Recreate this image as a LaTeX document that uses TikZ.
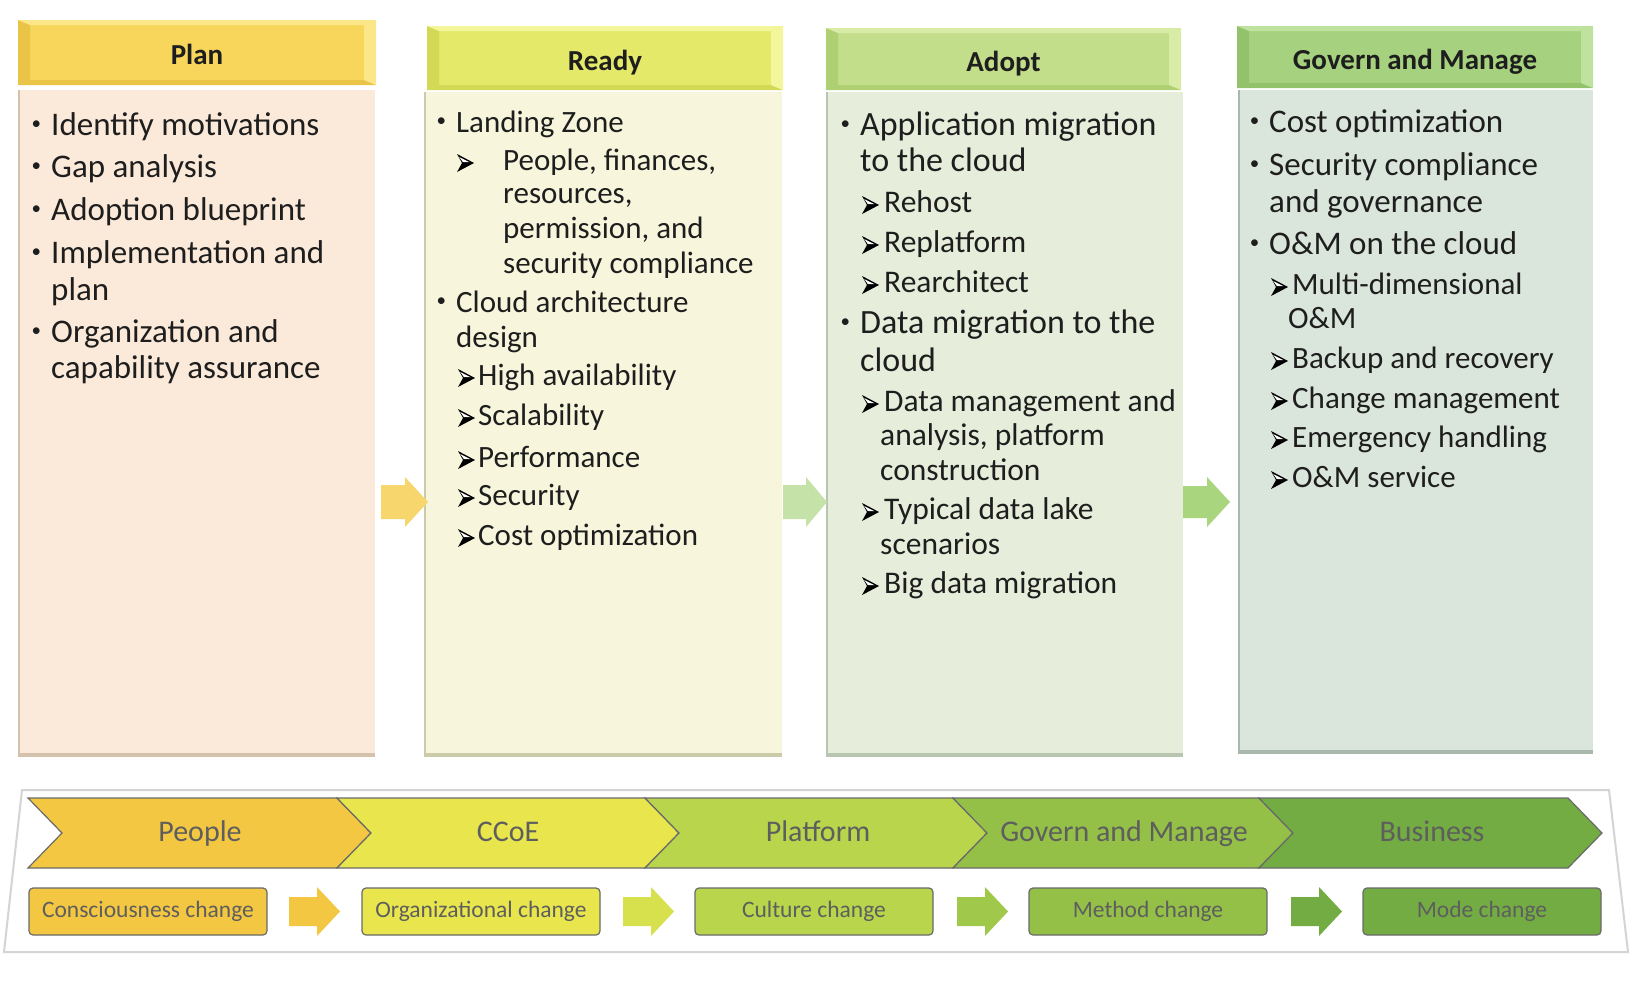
\documentclass[tikz,border=0pt]{standalone}
\usepackage{fontspec}
\setmainfont{Carlito}
\usetikzlibrary{calc}
\definecolor{txtc}{HTML}{1E1E1E}
\definecolor{lblc}{HTML}{5E5E5E}
\definecolor{linec}{HTML}{6A6A6A}
\definecolor{framec}{HTML}{D4D4D4}
% headers
\definecolor{h1m}{HTML}{F8D65C}\definecolor{h1d}{HTML}{E9C447}\definecolor{h1l}{HTML}{FCE68A}
\definecolor{h2m}{HTML}{E4E96A}\definecolor{h2d}{HTML}{D3D955}\definecolor{h2l}{HTML}{F3F69A}
\definecolor{h3m}{HTML}{C3DE8B}\definecolor{h3d}{HTML}{AFCF73}\definecolor{h3l}{HTML}{D8ECA8}
\definecolor{h4m}{HTML}{A6D27F}\definecolor{h4d}{HTML}{92C26A}\definecolor{h4l}{HTML}{BFE29E}
% bodies
\definecolor{b1f}{HTML}{FBEADA}\definecolor{b1e}{HTML}{D5C2AC}
\definecolor{b2f}{HTML}{F7F6DC}\definecolor{b2e}{HTML}{CBCBAA}
\definecolor{b3f}{HTML}{E6EDDA}\definecolor{b3e}{HTML}{B9C6AF}
\definecolor{b4f}{HTML}{DAE5DB}\definecolor{b4e}{HTML}{A8B9AC}
% column arrows
\definecolor{ca1}{HTML}{F7D66E}\definecolor{ca2}{HTML}{C5E3A8}\definecolor{ca3}{HTML}{A9D57F}
% chevrons
\definecolor{c1}{HTML}{F3C742}\definecolor{c2}{HTML}{E8E64C}\definecolor{c3}{HTML}{B8D54B}
\definecolor{c4}{HTML}{94C047}\definecolor{c5}{HTML}{72AC42}
\definecolor{a2}{HTML}{D7E14E}\definecolor{a3}{HTML}{A0C84A}

\newcommand\bu{\llap{\raisebox{6pt}{\fontsize{19}{19}\selectfont •}\hspace{10pt}}}

\newcommand\hdr[9]{%
  \fill[#6] (#2,#3) rectangle (#4,#5);
  \fill[#7] (#2,#3) -- (#2+12,#3+5) -- (#2+12,#5-5) -- (#2,#5) -- cycle;
  \fill[#7] (#2,#5) -- (#2+12,#5-5) -- (#4-12,#5-5) -- (#4,#5) -- cycle;
  \fill[#8] (#2,#3) -- (#4,#3) -- (#4-12,#3+5) -- (#2+12,#3+5) -- cycle;
  \fill[#8] (#4,#3) -- (#4,#5) -- (#4-12,#5-5) -- (#4-12,#3+5) -- cycle;
  \node[htxt, minimum width=#4-#2, minimum height=#5-#3] (#1) at ({(#2+#4)/2},{(#3+#5)/2}) {#9};
}
\newcommand\bdy[7]{%
  \node[fill=#6, inner sep=0pt, minimum width=#4-#2, minimum height=#5-#3] (#1) at ({(#2+#4)/2},{(#3+#5)/2}) {};
  \draw[#7, line width=2pt] (#2+1,#3) -- (#2+1,#5);
  \fill[#7] (#2,#5-4) rectangle (#4,#5);
}
% sub item: name, x, y, text, glyph offset, style
\newcommand\sub[6]{%
  \node[#6] (#1) at (#2,#3) {#4};
  \pic at ($(#1.base west)+(-#5,0)$) {ahd};
}

\begin{document}
\begin{tikzpicture}[x=1pt,y=-1pt,
  htxt/.style={inner sep=0pt, text=txtc, font=\fontsize{29}{32}\selectfont\bfseries, text height=24pt, text depth=0pt},
  ln/.style={anchor=base west, inner sep=0pt, text=txtc, font=\fontsize{33}{36}\selectfont},
  sl/.style={anchor=base west, inner sep=0pt, text=txtc, font=\fontsize{31}{34}\selectfont},
  lnA/.style={anchor=base west, inner sep=0pt, text=txtc, font=\fontsize{34}{37}\selectfont},
  slA/.style={anchor=base west, inner sep=0pt, text=txtc, font=\fontsize{31.5}{34}\selectfont},
  chl/.style={anchor=base, inner sep=0pt, text=lblc, font=\fontsize{30}{32}\selectfont},
  chg/.style={draw=linec, line width=1.2pt, line join=miter},
  cbox/.style={draw=linec, line width=1.2pt, rounded corners=4pt, minimum width=238pt, minimum height=47pt, inner sep=0pt, text=lblc, font=\fontsize{23.5}{26}\selectfont, text height=15pt, text depth=4pt},
  ahd/.pic={
    \fill[black] (0,-16) -- (17,-7) -- (0,2) -- (5,-7) -- cycle;
    \fill[white] (2.2,-13) -- (12.6,-7.8) -- (6,-7.8) -- cycle;
  },
  ]
\useasboundingbox (0,0) rectangle (1646,980);
\fill[white] (0,0) rectangle (1646,980);

% ---------- column headers ----------
\hdr{hPlan}{18}{20}{376}{85}{h1m}{h1d}{h1l}{Plan}
\hdr{hReady}{427}{26}{783}{90}{h2m}{h2d}{h2l}{Ready}
\hdr{hAdopt}{826}{28}{1181}{90}{h3m}{h3d}{h3l}{Adopt}
\hdr{hGov}{1237}{26}{1593}{88}{h4m}{h4d}{h4l}{Govern and Manage}

% ---------- column bodies ----------
\bdy{bPlan}{18}{90}{375}{757}{b1f}{b1e}
\bdy{bReady}{424}{92}{782}{757}{b2f}{b2e}
\bdy{bAdopt}{826}{92}{1183}{757}{b3f}{b3e}
\bdy{bGov}{1238}{90}{1593}{754}{b4f}{b4e}

% ---------- Plan text ----------
\node[ln] (p1) at (51,135) {\bu Identify motivations};
\node[ln] (p2) at (51,177) {\bu Gap analysis};
\node[ln] (p3) at (51,220) {\bu Adoption blueprint};
\node[ln] (p4) at (51,263) {\bu Implementation and};
\node[ln] (p4b) at (51,300) {plan};
\node[ln] (p5) at (51,342) {\bu Organization and};
\node[ln] (p5b) at (51,378) {capability assurance};

% ---------- Ready text ----------
\node[sl] (r1) at (456,132) {\bu Landing Zone};
\sub{r2}{503}{170}{People, finances,}{46}{sl}
\node[sl] (r2b) at (503,203) {resources,};
\node[sl] (r2c) at (503,238) {permission, and};
\node[sl] (r2d) at (503,273) {security compliance};
\node[sl] (r3) at (456,312) {\bu Cloud architecture};
\node[sl] (r3b) at (456,347) {design};
\sub{r4}{478}{385}{High availability}{20}{sl}
\sub{r5}{478}{425}{Scalability}{20}{sl}
\sub{r6}{478}{467}{Performance}{20}{sl}
\sub{r7}{478}{505}{Security}{20}{sl}
\sub{r8}{478}{545}{Cost optimization}{20}{sl}

% ---------- Adopt text ----------
\node[lnA] (d1) at (860,135) {\bu Application migration};
\node[lnA] (d1b) at (860,171) {to the cloud};
\sub{d2}{884}{212}{Rehost}{22}{slA}
\sub{d3}{884}{252}{Replatform}{22}{slA}
\sub{d4}{884}{292}{Rearchitect}{22}{slA}
\node[lnA] (d5) at (860,333) {\bu Data migration to the};
\node[lnA] (d5b) at (860,371) {cloud};
\sub{d6}{884}{411}{Data management and}{22}{slA}
\node[slA] (d6b) at (880,445) {analysis, platform};
\node[slA] (d6c) at (880,480) {construction};
\sub{d7}{884}{519}{Typical data lake}{22}{slA}
\node[slA] (d7b) at (880,554) {scenarios};
\sub{d8}{884}{593}{Big data migration}{22}{slA}

% ---------- Govern text ----------
\node[ln] (g1) at (1269,132) {\bu Cost optimization};
\node[ln] (g2) at (1269,175) {\bu Security compliance};
\node[ln] (g2b) at (1269,212) {and governance};
\node[ln] (g3) at (1269,254) {\bu O\&M on the cloud};
\sub{g4}{1292}{294}{Multi-dimensional}{21}{sl}
\node[sl] (g4b) at (1288,328) {O\&M};
\sub{g5}{1292}{368}{Backup and recovery}{21}{sl}
\sub{g6}{1292}{408}{Change management}{21}{sl}
\sub{g7}{1292}{447}{Emergency handling}{21}{sl}
\sub{g8}{1292}{487}{O\&M service}{21}{sl}

% ---------- arrows between columns ----------
\fill[ca1] (381,485) -- (405,485) -- (405,477) -- (428,502) -- (405,527) -- (405,519) -- (381,519) -- cycle;
\fill[ca2] (783,485) -- (806,485) -- (806,477) -- (827,502) -- (806,527) -- (806,519) -- (783,519) -- cycle;
\fill[ca3] (1183,486) -- (1207,486) -- (1207,477) -- (1230,502) -- (1207,527) -- (1207,518) -- (1183,518) -- cycle;

% ---------- bottom frame ----------
\draw[framec, line width=2pt, line join=miter] (22,790) -- (1609,790) -- (1628,952) -- (4,952) -- cycle;

% ---------- chevrons ----------
\foreach \xa/\xb/\cc in {28/337/c1, 337/645/c2, 645/953/c3, 953/1259/c4, 1259/1568/c5}{
  \filldraw[chg, fill=\cc] (\xa,798) -- (\xb,798) -- (\xb+34,833) -- (\xb,868) -- (\xa,868) -- (\xa+34,833) -- cycle;
}
\node[chl] (kPeople) at (200,841) {People};
\node[chl] (kCCoE) at (508,841) {CCoE};
\node[chl] (kPlat) at (818,841) {Platform};
\node[chl] (kGov) at (1124,841) {Govern and Manage};
\node[chl] (kBus) at (1432,841) {Business};

% ---------- change boxes ----------
\node[cbox, fill=c1] (m1) at (148,911.5) {Consciousness change};
\node[cbox, fill=c2] (m2) at (481,911.5) {Organizational change};
\node[cbox, fill=c3] (m3) at (814,911.5) {Culture change};
\node[cbox, fill=c4] (m4) at (1148,911.5) {Method change};
\node[cbox, fill=c5] (m5) at (1482,911.5) {Mode change};

% ---------- arrows between change boxes ----------
\foreach \xs/\cc in {289/c1, 623/a2, 957/a3, 1291/c5}{
  \fill[\cc] (\xs,897) -- (\xs+28,897) -- (\xs+28,887) -- (\xs+51,911.5) -- (\xs+28,936) -- (\xs+28,926) -- (\xs,926) -- cycle;
}
\end{tikzpicture}
\end{document}
